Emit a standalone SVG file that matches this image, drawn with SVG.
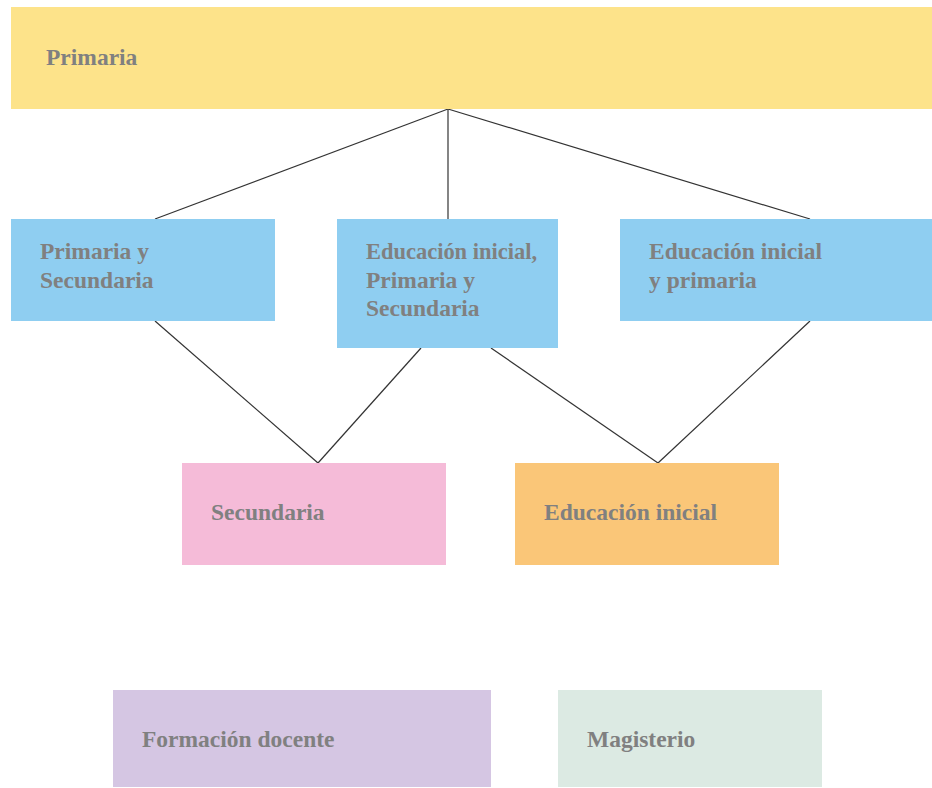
<svg xmlns="http://www.w3.org/2000/svg" width="932" height="788" viewBox="0 0 932 788">
<style>
.lbl{font-family:"Liberation Serif","Times New Roman",serif;font-weight:bold;font-size:23.5px;fill:#808080}
.edge{stroke:#333333;stroke-width:1.2;fill:none}
</style>
<rect width="932" height="788" fill="#ffffff"/>
<g id="connectors">
<line class="edge" x1="448" y1="109" x2="155" y2="219"/>
<line class="edge" x1="448" y1="109" x2="448" y2="219"/>
<line class="edge" x1="448" y1="109" x2="810" y2="219"/>
<line class="edge" x1="155" y1="321" x2="318" y2="463"/>
<line class="edge" x1="421" y1="348" x2="318" y2="463"/>
<line class="edge" x1="491" y1="348" x2="658" y2="463"/>
<line class="edge" x1="810" y1="321" x2="658" y2="463"/>
</g>
<g id="primaria">
<rect x="11" y="7" width="921" height="102" fill="#fde38a"/>
<text class="lbl" x="46" y="65">Primaria</text>
</g>
<g id="primaria-secundaria">
<rect x="11" y="219" width="264" height="102" fill="#8fcef1"/>
<text class="lbl" x="40" y="259">Primaria y</text>
<text class="lbl" x="40" y="287.5">Secundaria</text>
</g>
<g id="inicial-primaria-secundaria">
<rect x="337" y="219" width="221" height="129" fill="#8fcef1"/>
<text class="lbl" x="366" y="259" textLength="171" lengthAdjust="spacingAndGlyphs">Educación inicial,</text>
<text class="lbl" x="366" y="287.5">Primaria y</text>
<text class="lbl" x="366" y="316">Secundaria</text>
</g>
<g id="inicial-primaria">
<rect x="620" y="219" width="312" height="102" fill="#8fcef1"/>
<text class="lbl" x="649" y="259">Educación inicial</text>
<text class="lbl" x="649" y="287.5">y primaria</text>
</g>
<g id="secundaria">
<rect x="182" y="463" width="264" height="102" fill="#f5bbd8"/>
<text class="lbl" x="211" y="520">Secundaria</text>
</g>
<g id="educacion-inicial">
<rect x="515" y="463" width="264" height="102" fill="#fac678"/>
<text class="lbl" x="544" y="520">Educación inicial</text>
</g>
<g id="formacion-docente">
<rect x="113" y="690" width="378" height="97" fill="#d5c6e3"/>
<text class="lbl" x="142" y="747">Formación docente</text>
</g>
<g id="magisterio">
<rect x="558" y="690" width="264" height="97" fill="#dceae3"/>
<text class="lbl" x="587" y="747">Magisterio</text>
</g>
</svg>
